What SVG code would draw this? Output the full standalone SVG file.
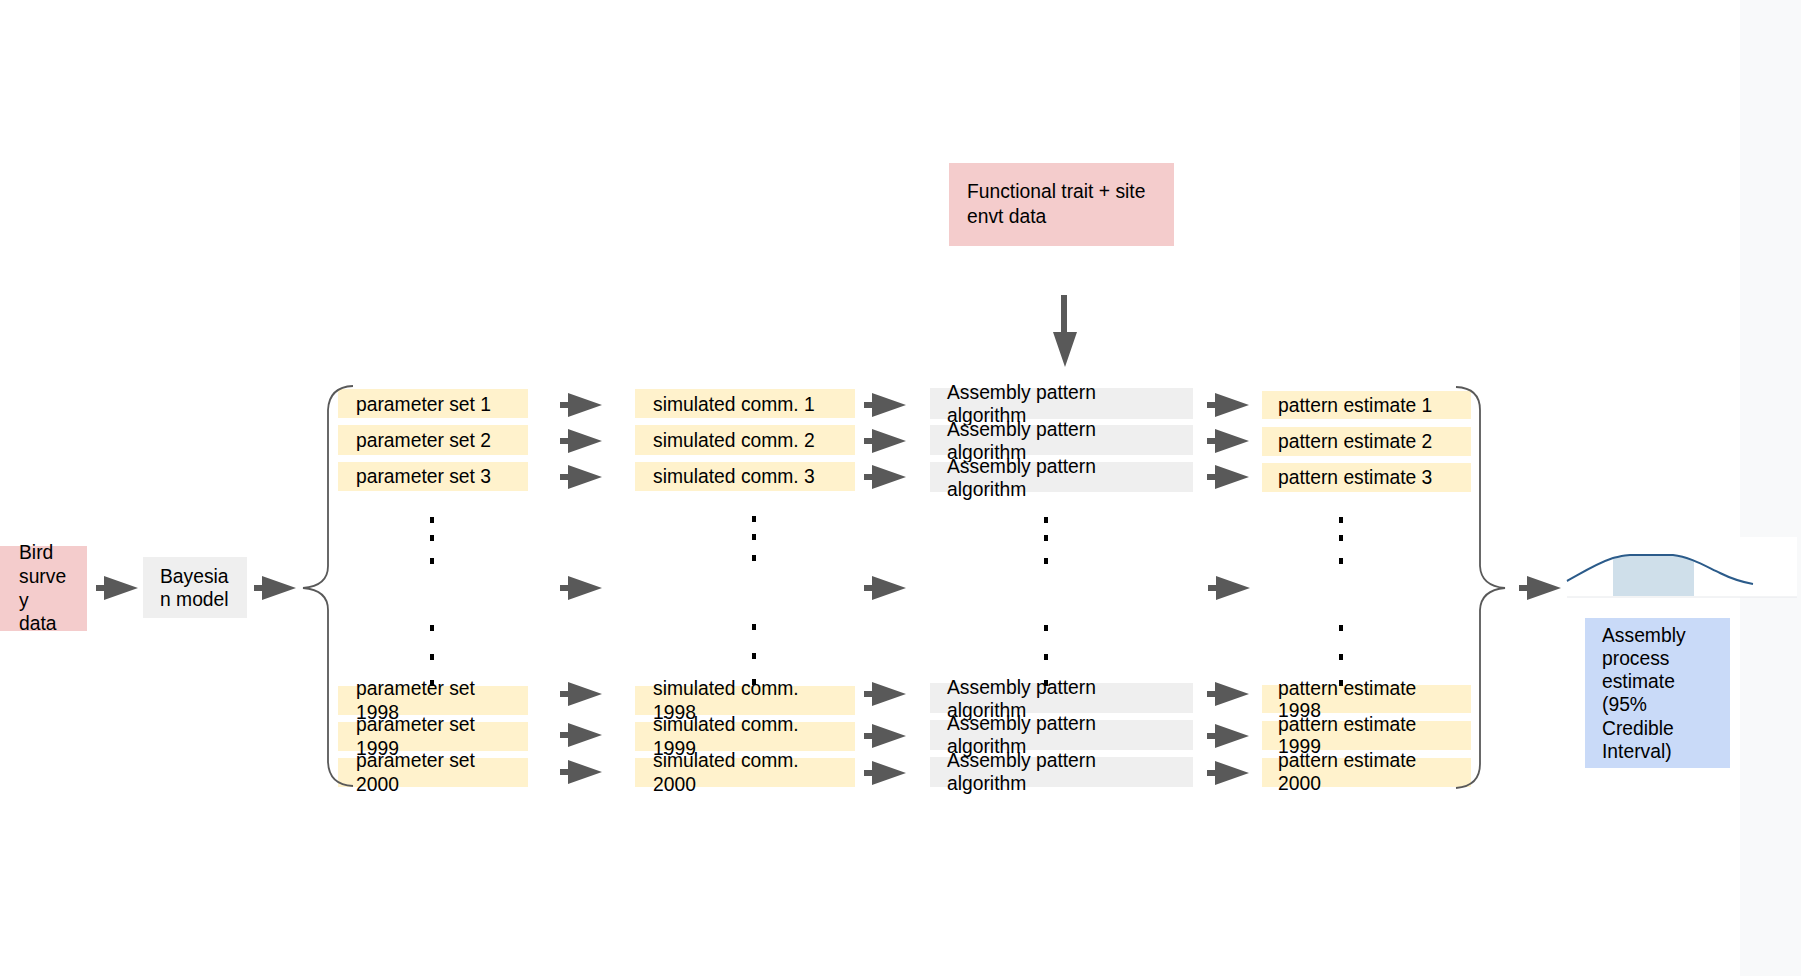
<svg xmlns="http://www.w3.org/2000/svg" width="1801" height="976" viewBox="0 0 1801 976">
  <style>
    text { font-family: "Liberation Sans", Arial, sans-serif; font-size: 19.3px; fill: #000; }
    .pink { fill: #f4cccc; }
    .grey { fill: #efefef; }
    .yellow { fill: #fff2cc; }
    .blue { fill: #c9daf8; }
    .arrow { fill: #595959; }
    .brace { fill: none; stroke: #595959; stroke-width: 1.8; }
    .dot { fill: #000; }
  </style>
  <defs>
    <!-- block arrow pointing right, origin at tail, centred vertically -->
    <path id="arr" d="M0,-3 H8 V-12 L42,0 L8,12 V3 H0 Z"/>
  </defs>

  <rect width="1801" height="976" fill="#ffffff"/>
  <rect x="1740" y="0" width="61" height="976" fill="#f8f9fa"/>

  <!-- inputs -->
  <g id="bird-survey">
    <rect class="pink" x="0" y="546" width="87" height="85"/>
    <text x="19" y="559">Bird</text>
    <text x="19" y="583">surve</text>
    <text x="19" y="607">y</text>
    <text x="19" y="630">data</text>
  </g>
  <g id="bayesian-model">
    <rect class="grey" x="143" y="557" width="104" height="61"/>
    <text x="160" y="583">Bayesia</text>
    <text x="160" y="606">n model</text>
  </g>
  <g id="trait-data">
    <rect class="pink" x="949" y="163" width="225" height="83"/>
    <text x="967" y="198">Functional trait + site</text>
    <text x="967" y="223">envt data</text>
  </g>

  <!-- parameter sets -->
  <g id="param-1"><rect class="yellow" x="338" y="389" width="190" height="29"/><text x="356" y="411">parameter set 1</text></g>
  <g id="param-2"><rect class="yellow" x="338" y="425" width="190" height="30"/><text x="356" y="447">parameter set 2</text></g>
  <g id="param-3"><rect class="yellow" x="338" y="462" width="190" height="29"/><text x="356" y="483">parameter set 3</text></g>
  <g id="param-1998"><rect class="yellow" x="338" y="686" width="190" height="29"/><text x="356" y="695">parameter set</text><text x="356" y="719">1998</text></g>
  <g id="param-1999"><rect class="yellow" x="338" y="722" width="190" height="29"/><text x="356" y="731">parameter set</text><text x="356" y="755">1999</text></g>
  <g id="param-2000"><rect class="yellow" x="338" y="758" width="190" height="29"/><text x="356" y="767">parameter set</text><text x="356" y="791">2000</text></g>

  <!-- simulated communities -->
  <g id="sim-1"><rect class="yellow" x="635" y="389" width="220" height="29"/><text x="653" y="411">simulated comm. 1</text></g>
  <g id="sim-2"><rect class="yellow" x="635" y="425" width="220" height="30"/><text x="653" y="447">simulated comm. 2</text></g>
  <g id="sim-3"><rect class="yellow" x="635" y="462" width="220" height="29"/><text x="653" y="483">simulated comm. 3</text></g>
  <g id="sim-1998"><rect class="yellow" x="635" y="686" width="220" height="29"/><text x="653" y="695">simulated comm.</text><text x="653" y="719">1998</text></g>
  <g id="sim-1999"><rect class="yellow" x="635" y="722" width="220" height="29"/><text x="653" y="731">simulated comm.</text><text x="653" y="755">1999</text></g>
  <g id="sim-2000"><rect class="yellow" x="635" y="758" width="220" height="29"/><text x="653" y="767">simulated comm.</text><text x="653" y="791">2000</text></g>

  <!-- assembly pattern algorithm -->
  <g id="algo-1"><rect class="grey" x="930" y="388" width="263" height="31"/><text x="947" y="399">Assembly pattern</text><text x="947" y="422">algorithm</text></g>
  <g id="algo-2"><rect class="grey" x="930" y="425" width="263" height="30"/><text x="947" y="436">Assembly pattern</text><text x="947" y="459">algorithm</text></g>
  <g id="algo-3"><rect class="grey" x="930" y="462" width="263" height="30"/><text x="947" y="473">Assembly pattern</text><text x="947" y="496">algorithm</text></g>
  <g id="algo-1998"><rect class="grey" x="930" y="683" width="263" height="30"/><text x="947" y="694">Assembly pattern</text><text x="947" y="717">algorithm</text></g>
  <g id="algo-1999"><rect class="grey" x="930" y="720" width="263" height="30"/><text x="947" y="730">Assembly pattern</text><text x="947" y="753">algorithm</text></g>
  <g id="algo-2000"><rect class="grey" x="930" y="757" width="263" height="30"/><text x="947" y="767">Assembly pattern</text><text x="947" y="790">algorithm</text></g>

  <!-- pattern estimates -->
  <g id="est-1"><rect class="yellow" x="1262" y="391" width="209" height="28"/><text x="1278" y="412">pattern estimate 1</text></g>
  <g id="est-2"><rect class="yellow" x="1262" y="427" width="209" height="29"/><text x="1278" y="448">pattern estimate 2</text></g>
  <g id="est-3"><rect class="yellow" x="1262" y="463" width="209" height="29"/><text x="1278" y="484">pattern estimate 3</text></g>
  <g id="est-1998"><rect class="yellow" x="1262" y="685" width="209" height="28"/><text x="1278" y="695">pattern estimate</text><text x="1278" y="717">1998</text></g>
  <g id="est-1999"><rect class="yellow" x="1262" y="721" width="209" height="29"/><text x="1278" y="731">pattern estimate</text><text x="1278" y="753">1999</text></g>
  <g id="est-2000"><rect class="yellow" x="1262" y="758" width="209" height="29"/><text x="1278" y="767">pattern estimate</text><text x="1278" y="790">2000</text></g>

  <!-- ellipsis dots between the first and last runs -->
  <g id="ellipsis">
    <rect class="dot" x="430" y="517" width="4" height="6"/>
    <rect class="dot" x="430" y="535" width="4" height="6"/>
    <rect class="dot" x="430" y="558" width="4" height="6"/>
    <rect class="dot" x="430" y="625" width="4" height="6"/>
    <rect class="dot" x="430" y="654" width="4" height="6"/>
    <rect class="dot" x="430" y="680" width="4" height="6"/>
    <rect class="dot" x="752" y="516" width="4" height="6"/>
    <rect class="dot" x="752" y="534" width="4" height="6"/>
    <rect class="dot" x="752" y="555" width="4" height="6"/>
    <rect class="dot" x="752" y="624" width="4" height="6"/>
    <rect class="dot" x="752" y="653" width="4" height="6"/>
    <rect class="dot" x="752" y="679" width="4" height="6"/>
    <rect class="dot" x="1044" y="517" width="4" height="6"/>
    <rect class="dot" x="1044" y="535" width="4" height="6"/>
    <rect class="dot" x="1044" y="558" width="4" height="6"/>
    <rect class="dot" x="1044" y="625" width="4" height="6"/>
    <rect class="dot" x="1044" y="654" width="4" height="6"/>
    <rect class="dot" x="1044" y="680" width="4" height="6"/>
    <rect class="dot" x="1339" y="517" width="4" height="6"/>
    <rect class="dot" x="1339" y="535" width="4" height="6"/>
    <rect class="dot" x="1339" y="558" width="4" height="6"/>
    <rect class="dot" x="1339" y="625" width="4" height="6"/>
    <rect class="dot" x="1339" y="654" width="4" height="6"/>
    <rect class="dot" x="1339" y="680" width="4" height="6"/>
  </g>

  <!-- result: posterior curve with 95% credible band -->
  <g id="posterior">
    <rect x="1567" y="537" width="230" height="60" fill="#ffffff"/>
    <path d="M1613,558 C1620,556.5 1625,555.5 1630,555 L1673,555 C1682,556 1688,558 1694,560 L1694,596 L1613,596 Z" fill="#cfdfea"/>
    <line x1="1567" y1="597" x2="1797" y2="597" stroke="#e6e8eb" stroke-width="1"/>
    <path d="M1567,581 C1580,574 1595,564 1613,558 C1620,556.5 1625,555 1630,555 L1673,555 C1690,557 1705,566 1720,573 C1732,579 1742,582 1753,584" fill="none" stroke="#2b5b8a" stroke-width="2"/>
  </g>
  <g id="process-estimate">
    <rect class="blue" x="1585" y="618" width="145" height="150"/>
    <text x="1602" y="642">Assembly</text>
    <text x="1602" y="665">process</text>
    <text x="1602" y="688">estimate</text>
    <text x="1602" y="711">(95%</text>
    <text x="1602" y="735">Credible</text>
    <text x="1602" y="758">Interval)</text>
  </g>

  <!-- connectors -->
  <g id="connectors">
    <path class="brace" d="M353,386 Q329,387 328,410 L328,566 Q328,586 303,588 Q328,590 328,610 L328,762 Q329,785 353,786"/>
    <path class="brace" d="M1456,387 Q1480,388 1480,410 L1480,566 Q1481,586 1505,588 Q1481,590 1480,610 L1480,764 Q1480,786 1456,788"/>

    <use href="#arr" class="arrow" x="96" y="588"/>
    <use href="#arr" class="arrow" x="254" y="588"/>
    <use href="#arr" class="arrow" x="1519" y="588"/>

    <use href="#arr" class="arrow" x="560" y="405"/>
    <use href="#arr" class="arrow" x="560" y="441"/>
    <use href="#arr" class="arrow" x="560" y="477"/>
    <use href="#arr" class="arrow" x="560" y="588"/>
    <use href="#arr" class="arrow" x="560" y="694"/>
    <use href="#arr" class="arrow" x="560" y="735"/>
    <use href="#arr" class="arrow" x="560" y="772"/>

    <use href="#arr" class="arrow" x="864" y="405"/>
    <use href="#arr" class="arrow" x="864" y="441"/>
    <use href="#arr" class="arrow" x="864" y="477"/>
    <use href="#arr" class="arrow" x="864" y="588"/>
    <use href="#arr" class="arrow" x="864" y="694"/>
    <use href="#arr" class="arrow" x="864" y="736"/>
    <use href="#arr" class="arrow" x="864" y="773"/>

    <use href="#arr" class="arrow" x="1207" y="405"/>
    <use href="#arr" class="arrow" x="1207" y="441"/>
    <use href="#arr" class="arrow" x="1207" y="477"/>
    <use href="#arr" class="arrow" x="1208" y="588"/>
    <use href="#arr" class="arrow" x="1207" y="694"/>
    <use href="#arr" class="arrow" x="1207" y="736"/>
    <use href="#arr" class="arrow" x="1207" y="773"/>

    <!-- trait data feeding the algorithm column -->
    <path class="arrow" d="M1061,295 H1067 V332 H1077 L1065,367 L1053,332 H1061 Z"/>
  </g>
</svg>
